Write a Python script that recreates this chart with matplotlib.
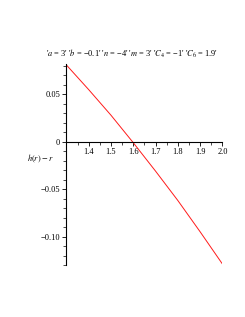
import matplotlib
matplotlib.use('Agg')
import matplotlib.pyplot as plt
from matplotlib.ticker import MultipleLocator, FixedLocator

r = [1.3, 1.4, 1.5, 1.6, 1.7, 1.8, 1.9, 2.0]
hr_minus_r = [0.081, 0.055, 0.028, -0.001, -0.031, -0.062, -0.095, -0.129]

xticks = [1.4, 1.5, 1.6, 1.7, 1.8, 1.9, 2.0]
yticks = [0.05, 0, -0.05, -0.10]
ytick_labels = ['0.05', '0', '\u22120.05', '\u22120.10']

title = ("'$a$ = 3' '$b$ = \u22120.1' '$n$ = \u22124' '$m$ = 3' "
         "'$C_4$ = \u22121' '$C_6$ = 1.9'")

plt.rcParams['font.family'] = ['Liberation Serif', 'DejaVu Serif']
plt.rcParams['mathtext.fontset'] = 'stix'

fig = plt.figure(figsize=(2.45, 3.17), dpi=100)
ax = fig.add_axes([0.271, 0.164, 0.637, 0.634])

ax.plot(r, hr_minus_r, color='#ff1a1a', lw=0.7)

ax.set_xlim(1.3, 2.0)
ax.set_ylim(-0.13, 0.082)

ax.spines['top'].set_visible(False)
ax.spines['right'].set_visible(False)
ax.spines['bottom'].set_position(('data', 0))
ax.spines['left'].set_linewidth(0.8)
ax.spines['bottom'].set_linewidth(0.8)

ax.xaxis.set_major_locator(FixedLocator(xticks))
ax.set_xticklabels(['%.1f' % v for v in xticks])
ax.xaxis.set_minor_locator(MultipleLocator(0.05))
ax.yaxis.set_major_locator(FixedLocator(yticks))
ax.set_yticklabels(ytick_labels)
ax.yaxis.set_minor_locator(MultipleLocator(0.01))

ax.tick_params(which='major', length=3, width=0.6, labelsize=6, pad=1.5)
ax.tick_params(which='minor', length=2, width=0.5)

ax.text(0.42, 1.02, title, transform=ax.transAxes, ha='center', va='bottom', fontsize=6)
fig.text(0.165, 0.5, '$h(r) - r$', ha='center', va='center', fontsize=6)

fig.savefig('out.png', dpi=100)
